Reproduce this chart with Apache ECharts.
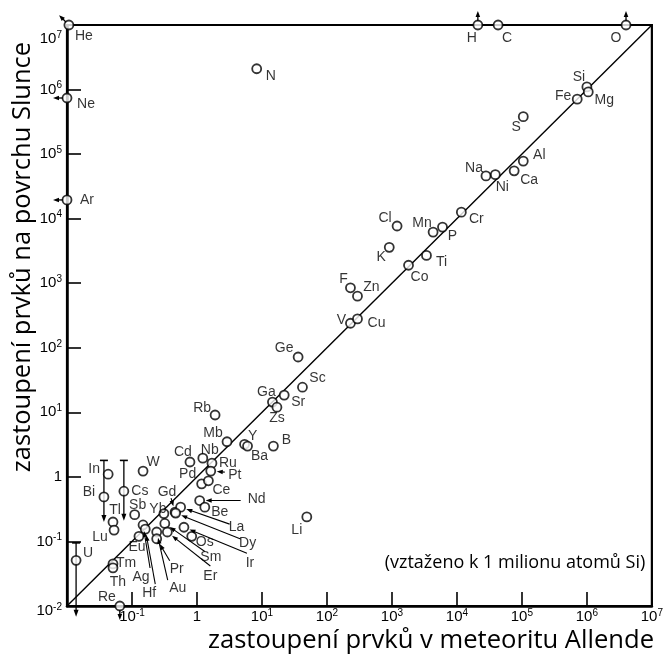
<!DOCTYPE html>
<html>
<head>
<meta charset="utf-8">
<script src="https://cdn.jsdelivr.net/npm/echarts@6/dist/echarts.min.js"></script>
<style>
  html, body { margin: 0; padding: 0; background: #fff; }
  #chart { width: 666px; height: 659px; }
</style>
</head>
<body>
<div id="chart"></div>
<script>
// element abundances, normalised to 1e6 atoms Si
var elementNames = ['He','Ne','Ar','N','H','C','O','Si','Mg','Fe','S','Al','Ca','Na','Ni','Cr',
  'Cl','Mn','P','K','Ti','Co','F','Zn','V','Cu','Ge','Sc','Sr','Ga','Zs','Rb','Mb','Y','Ba','B',
  'Cd','Nb','Ru','Pt','Pd','Ce','Nd','Be','W','In','Bi','Cs','Tl','Lu','Sb','Yb','Gd','La','Dy',
  'Sm','Er','Au','Pr','Ag','Hf','Eu','Ir','Os','Li','U','Tm','Th','Re'];
var allendeValues = [0.0107,0.01,0.01,8.3,2.1e4,4.3e4,4.0e6,1.0e6,1.05e6,7.1e5,1.05e5,1.05e5,7.6e4,2.8e4,3.9e4,1.17e4,
  1.2e3,4.3e3,6.0e3,910,3.4e3,1.8e3,230,295,230,295,36,42,22,14.5,17,1.9,2.9,5.4,6.0,15,
  0.78,1.23,1.7,1.63,1.18,1.5,1.1,1.32,0.148,0.043,0.037,0.075,0.051,0.053,0.11,0.31,0.46,0.56,0.47,
  0.32,0.35,0.24,0.24,0.148,0.16,0.128,0.63,0.83,49,0.0138,0.051,0.051,0.065];
var sunValues = [1e7,7.4e5,1.95e4,2.1e6,1e7,1e7,1e7,1.1e6,9.2e5,7.1e5,3.8e5,7.8e4,5.5e4,4.6e4,4.8e4,1.26e4,
  7.7e3,6.2e3,7.4e3,3.6e3,2.7e3,1.9e3,850,630,240,280,72,24.5,18.5,14.4,12,9.1,3.5,3.2,3.0,3.0,
  1.7,1.95,1.63,1.23,0.78,0.87,0.43,0.34,1.23,1.1,0.49,0.6,0.2,0.15,0.26,0.27,0.285,0.34,0.275,
  0.19,0.14,0.14,0.11,0.18,0.155,0.12,0.166,0.12,0.24,0.051,0.045,0.039,0.01];

// vertical bars (upper cap, arrow down)
var errorBarNames = ['Bi','Cs','U'];
var errorBarTop = [1.8, 1.8, 0.095];
var errorBarBottom = [0.2, 0.21, 0.0068];

// limit arrows
var limitNames = ['He','Ne','Ar','H','O','Re'];
var limitDirections = ['upleft','left','left','up','up','down'];

// y = x line
var diagonalX = [0.01, 1e7];
var diagonalY = [0.01, 1e7];

var tickExponents = [-2,-1,0,1,2,3,4,5,6,7];

// label placement (px, relative to the point)
var labelOffset = {
  He:[15,11], Ne:[19,6], Ar:[20,0], N:[14,7], H:[-6,13], C:[9,13], O:[-10,13],
  Si:[-8,-10], Mg:[16,8], Fe:[-14,-3], S:[-7,10], Al:[16,-6], Ca:[15,9], Na:[-12,-8], Ni:[7,12], Cr:[15,7],
  Cl:[-12,-8], Mn:[-11,-9], P:[10,9], K:[-8,10], Ti:[15,7], Co:[11,12], F:[-7,-9], Zn:[14,-9], V:[-9,-3], Cu:[19,4],
  Ge:[-14,-9], Sc:[15,-9], Sr:[14,7], Ga:[-6,-10], Zs:[0,11], Rb:[-13,-7], Mb:[-14,-9], Y:[8,-8], Ba:[12,10], B:[13,-6],
  Cd:[-7,-10], Nb:[7,-8], Ru:[16,0], Pt:[24,4], Pd:[-14,-10], Ce:[13,9], Nd:[57,-1], Be:[15,5], W:[10,-9],
  In:[-14,-5], Bi:[-15,-5], Cs:[16,0], Tl:[2,-12], Lu:[-14,7], Sb:[3,-10], Yb:[-6,-4], Gd:[-8,-20],
  La:[56,20], Dy:[72,30], Sm:[46,34], Er:[43,44], Au:[21,56], Pr:[20,30], Ag:[-2,52], Hf:[4,64], Eu:[-2,11],
  Ir:[66,36], Os:[13,6], Li:[-10,13], U:[12,-7], Tm:[13,-1], Th:[5,14], Re:[-13,-9]
};
// leader arrows from the label toward the point
var leaderStart = {
  Nd:[41,0], La:[49,17], Dy:[65,26], Ir:[63,26], Sm:[40,28], Er:[43,34],
  Pr:[13,22], Au:[11,48], Ag:[7,43], Hf:[10,55], Pt:[14,1], Gd:[-4,-14]
};
var leaderNames = Object.keys(leaderStart);

function idx(n) { return elementNames.indexOf(n); }

function arrowHead(e, ux, uy, len, w) {
  return {
    type: 'polygon',
    shape: { points: [[e[0], e[1]],
      [e[0] - ux * len - uy * w, e[1] - uy * len + ux * w],
      [e[0] - ux * len + uy * w, e[1] - uy * len - ux * w]] },
    style: { fill: '#000' }
  };
}

// "10" with superscript exponent
function xTickLabel(v) {
  var k = Math.round(Math.log10(v));
  if (k === 0) return '{b|1}';
  return '{b|10}{s|' + k + '}';
}
// on the y axis the top and bottom labels sit a bit lower
function yTickLabel(v) {
  var k = Math.round(Math.log10(v));
  if (k === 0) return '{b|1}';
  var tag = k === 7 ? 't' : (k === -2 ? 'l' : '');
  return '{b' + tag + '|10}{s' + tag + '|' + k + '}';
}
var tickFont = { fontFamily: 'Liberation Sans', color: '#000' };
var tickRich = {
  b:  Object.assign({ fontSize: 15, lineHeight: 16 }, tickFont),
  s:  Object.assign({ fontSize: 10, lineHeight: 10, padding: [0, 0, 8, 0] }, tickFont),
  bt: Object.assign({ fontSize: 15, lineHeight: 16, padding: [28, 0, 0, 0] }, tickFont),
  st: Object.assign({ fontSize: 10, lineHeight: 10, padding: [28, 0, 8, 0] }, tickFont),
  bl: Object.assign({ fontSize: 15, lineHeight: 16, padding: [10, 0, 0, 0] }, tickFont),
  sl: Object.assign({ fontSize: 10, lineHeight: 10, padding: [10, 0, 8, 0] }, tickFont)
};

function fitFont(text, family, width) {
  var ctx = document.createElement('canvas').getContext('2d');
  ctx.font = '100px "' + family + '"';
  return Math.round(100 * width / ctx.measureText(text).width * 10) / 10;
}

var titleFamily = 'Open Sans';
var xTitle = 'zastoupení prvků v meteoritu Allende';
var yTitle = 'zastoupení prvků na povrchu Slunce';
var noteText = '(vztaženo k 1 milionu atomů Si)';

var axisCommon = {
  type: 'log',
  logBase: 10,
  min: 0.01,
  max: 1e7,
  splitNumber: 9,
  axisLine: { lineStyle: { color: '#000', width: 2.5 } },
  axisTick: { inside: true, length: 14, lineStyle: { color: '#000', width: 1.6 } },
  splitLine: { show: false },
  minorTick: { show: false }
};

var chart = echarts.init(document.getElementById('chart'));

var option = {
  animation: false,
  grid: { left: 67, right: 13, top: 25, bottom: 53, show: true, borderColor: '#000', borderWidth: 2.2 },
  xAxis: Object.assign({}, axisCommon, {
    axisLabel: { formatter: xTickLabel, rich: tickRich, margin: 3, showMinLabel: false }
  }),
  yAxis: Object.assign({}, axisCommon, {
    axisLabel: { formatter: yTickLabel, rich: tickRich, margin: 5 }
  }),
  graphic: [
    { type: 'text', x: 431, y: 641, style: { text: xTitle, font: fitFont(xTitle, titleFamily, 447) + 'px "' + titleFamily + '"', fill: '#000', align: 'center', verticalAlign: 'middle' } },
    { type: 'text', x: 23, y: 257, rotation: Math.PI / 2, style: { text: yTitle, font: fitFont(yTitle, titleFamily, 431) + 'px "' + titleFamily + '"', fill: '#000', align: 'center', verticalAlign: 'middle' } },
    { type: 'text', x: 515, y: 563, style: { text: noteText, font: fitFont(noteText, titleFamily, 260) + 'px "' + titleFamily + '"', fill: '#000', align: 'center', verticalAlign: 'middle' } }
  ],
  series: [
    {
      type: 'line',
      data: diagonalX.map(function (x, i) { return [x, diagonalY[i]]; }),
      symbol: 'none',
      lineStyle: { color: '#000', width: 1.4 },
      z: 1,
      silent: true
    },
    {
      type: 'custom',
      clip: false,
      z: 2,
      silent: true,
      data: errorBarNames.map(function (n, i) { return [allendeValues[idx(n)], errorBarTop[i], errorBarBottom[i]]; }),
      encode: { x: 0, y: [1, 2] },
      renderItem: function (params, api) {
        var t = api.coord([api.value(0), api.value(1)]);
        var b = api.coord([api.value(0), api.value(2)]);
        return {
          type: 'group',
          children: [
            { type: 'line', shape: { x1: t[0], y1: t[1], x2: b[0], y2: b[1] - 5 }, style: { stroke: '#000', lineWidth: 1.3 } },
            { type: 'line', shape: { x1: t[0] - 4, y1: t[1], x2: t[0] + 4, y2: t[1] }, style: { stroke: '#000', lineWidth: 1.6 } },
            arrowHead(b, 0, 1, 7, 2.5)
          ]
        };
      }
    },
    {
      type: 'custom',
      clip: false,
      z: 4,
      silent: true,
      data: limitNames.map(function (n) { return [allendeValues[idx(n)], sunValues[idx(n)]]; }),
      renderItem: function (params, api) {
        var p = api.coord([api.value(0), api.value(1)]);
        var d = limitDirections[params.dataIndex];
        var u = d === 'up' ? [0, -1] : d === 'left' ? [-1, 0] : d === 'down' ? [0, 1] : [-0.7, -0.7];
        var e = [p[0] + u[0] * 14, p[1] + u[1] * 14];
        return {
          type: 'group',
          children: [
            { type: 'line', shape: { x1: p[0] + u[0] * 4, y1: p[1] + u[1] * 4, x2: e[0] - u[0] * 3, y2: e[1] - u[1] * 3 }, style: { stroke: '#000', lineWidth: 1.3 } },
            arrowHead(e, u[0], u[1], 6, 2.3)
          ]
        };
      }
    },
    {
      type: 'custom',
      clip: false,
      z: 4,
      silent: true,
      data: leaderNames.map(function (n) { return [allendeValues[idx(n)], sunValues[idx(n)]]; }),
      renderItem: function (params, api) {
        var p = api.coord([api.value(0), api.value(1)]);
        var off = leaderStart[leaderNames[params.dataIndex]];
        var s = [p[0] + off[0], p[1] + off[1]];
        var dx = p[0] - s[0], dy = p[1] - s[1];
        var L = Math.sqrt(dx * dx + dy * dy);
        var ux = dx / L, uy = dy / L;
        var e = [p[0] - ux * 6, p[1] - uy * 6];
        return {
          type: 'group',
          children: [
            { type: 'line', shape: { x1: s[0], y1: s[1], x2: e[0] - ux * 3, y2: e[1] - uy * 3 }, style: { stroke: '#000', lineWidth: 1.1 } },
            arrowHead(e, ux, uy, 6, 2.2)
          ]
        };
      }
    },
    {
      type: 'scatter',
      clip: false,
      z: 3,
      symbol: 'circle',
      symbolSize: 9,
      itemStyle: { color: '#fff', borderColor: '#000', borderWidth: 1.8 },
      emphasis: { disabled: true },
      label: {
        show: true,
        position: 'inside',
        formatter: '{b}',
        color: '#000',
        fontSize: 14,
        fontFamily: 'Liberation Sans',
        align: 'center',
        verticalAlign: 'middle'
      },
      data: elementNames.map(function (n, i) {
        return { name: n, value: [allendeValues[i], sunValues[i]], label: { offset: labelOffset[n] || [12, 0] } };
      })
    }
  ]
};

chart.setOption(option);
</script>
</body>
</html>
